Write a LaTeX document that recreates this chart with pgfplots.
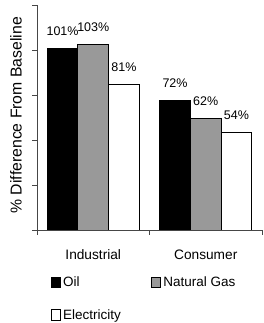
\documentclass[border=0pt]{standalone}
\usepackage{fontspec}
\setmainfont{Liberation Sans}
\usepackage{pgfplots}
\pgfplotsset{compat=1.18}
\definecolor{gasgray}{RGB}{153,153,153}
\definecolor{axgray}{RGB}{70,70,70}
\begin{document}
\begin{tikzpicture}[x=1pt,y=1pt]
\path[use as bounding box] (0,0) rectangle (263,323);
\begin{axis}[
  at={(37pt,93pt)}, anchor=south west,
  scale only axis, width=225pt, height=225pt,
  xmin=-0.5, xmax=1.5, ymin=0, ymax=125,
  enlargelimits=false,
  axis x line*=bottom, axis y line*=left,
  axis line style={line width=0.8pt, axgray},
  /pgf/number format/assume math mode=true,
  xtick={-0.5,0.5,1.5}, xticklabels={},
  extra x ticks={0,1}, extra x tick labels={Industrial,Consumer},
  extra x tick style={major tick length=0pt},
  ytick={0,25,50,75,100,125}, yticklabels={},
  tick align=outside, major tick length=4.5pt,
  tick style={line width=0.8pt, axgray},
  xticklabel style={font=\fontsize{13.7}{16}\selectfont, yshift=-16pt},
  ylabel={\% Difference From Baseline},
  ylabel style={font=\fontsize{15.8}{18}\selectfont, at={(axis description cs:0,0.51)}, anchor=center, yshift=21pt},
  bar width=0.273,
  nodes near coords={\pgfmathprintnumber[assume math mode=true]{\pgfplotspointmeta}\%},
  nodes near coords style={font=\fontsize{12.5}{14}\selectfont, inner sep=0pt, yshift=12.5pt, text=black},
  legend columns=2, legend cell align=left,
  legend image code/.code={\draw[#1] (0pt,-5pt) rectangle (9.5pt,5.5pt);},
  legend style={at={(axis description cs:0.061,-0.2)}, anchor=north west, draw=none, fill=none,
    inner sep=0pt, font=\fontsize{13.5}{16}\selectfont, row sep=17pt,
    /tikz/every even column/.append style={column sep=28pt}},
]
\addplot[ybar, bar shift=0, fill=black, draw=black, line width=0.8pt] coordinates {(-0.273,101) (0.727,72)};
\addlegendentry{Oil}
\addplot[ybar, bar shift=0, fill=gasgray, draw=black, line width=0.8pt] coordinates {(0,103) (1,62)};
\addlegendentry{Natural Gas}
\addplot[ybar, bar shift=0, fill=white, draw=black, line width=0.8pt] coordinates {(0.273,81) (1.273,54)};
\addlegendentry{Electricity}
\end{axis}
\end{tikzpicture}
\end{document}
